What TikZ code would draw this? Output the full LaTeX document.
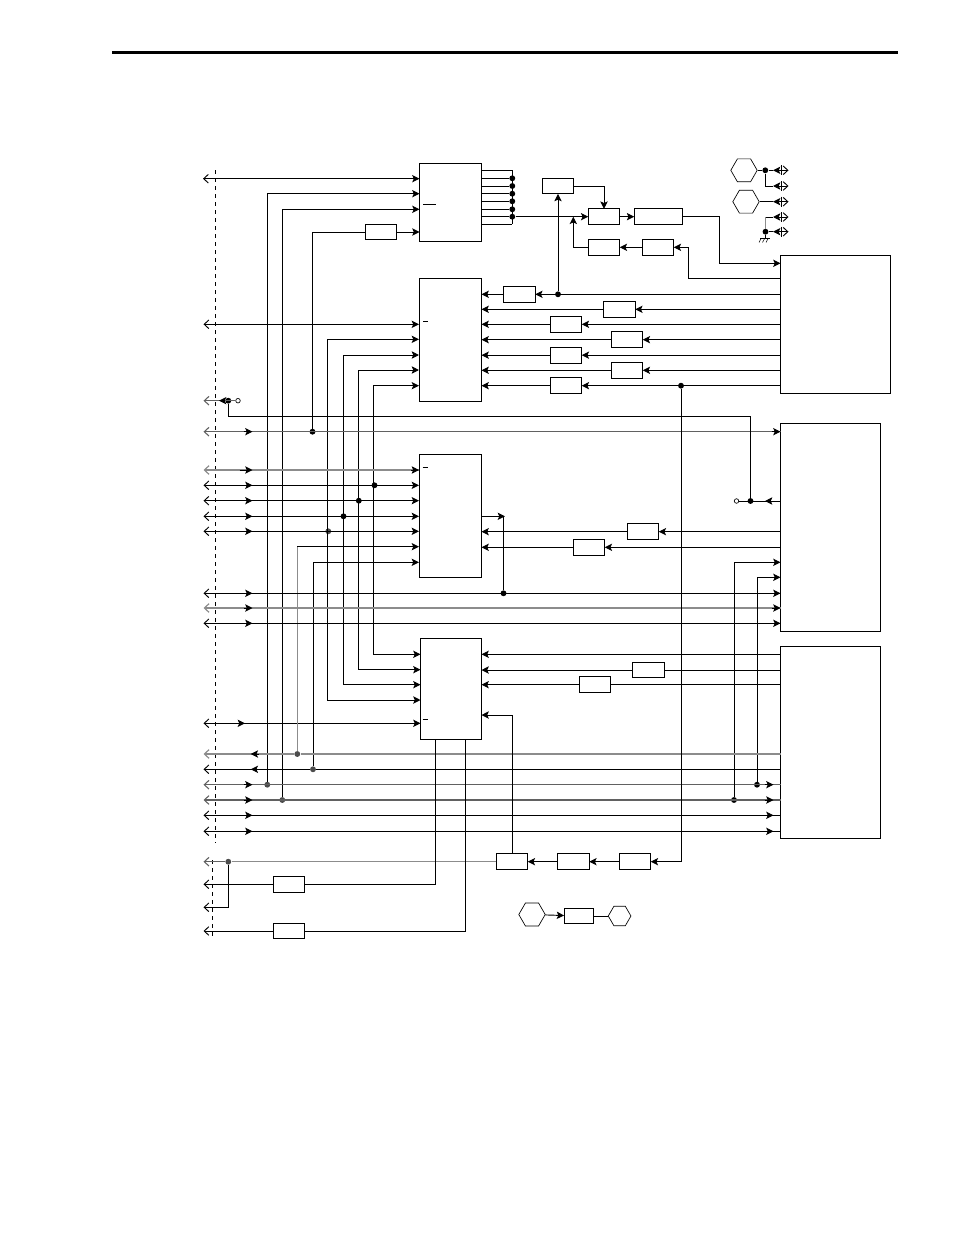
\documentclass[tikz,border=0pt]{standalone}
\usepackage{tikz}
\usetikzlibrary{arrows.meta}
\usetikzlibrary{shapes.geometric}
\tikzset{
	tipin/.tip={Stealth[length=5.5pt,width=5.5pt,inset=1.2pt]},
	chev/.tip={Straight Barb[length=3.5pt,width=6.5pt]},
	wire/.style={black,line width=0.7pt},
	midwire/.style={black!62,line width=0.8pt},
	palewire/.style={black!45,line width=0.9pt},
	blk/.style={draw,line width=0.7pt,inner sep=0pt,outer sep=0pt},
	box/.style={blk,minimum width=23.6pt,minimum height=11.9pt},
	dot/.style={circle,fill=black,inner sep=0pt,minimum size=4.4pt},
	graydot/.style={dot,fill=black!70},
	hole/.style={circle,draw,fill=white,line width=0.5pt,inner sep=0pt,minimum size=3.4pt},
	hexa/.style={regular polygon,regular polygon sides=6,draw,line width=0.5pt,inner sep=0pt,minimum size=19.8pt},
}
\begin{document}
\begin{tikzpicture}[x=0.75pt,y=-0.75pt]
		\useasboundingbox (0,0) rectangle (954,1235);
		\draw[line width=2.4pt] (112,52.5) -- (898,52.5);
		\draw[line width=0.7pt,dash pattern=on 3pt off 3pt] (215,170) -- (215,843);
		\draw[line width=0.7pt,dash pattern=on 3pt off 3pt] (212.7,860) -- (212.7,936);

		\node[blk,minimum width=46.5pt,minimum height=58.5pt] (U1) at (450.5,202) {};
		\node[blk,minimum width=46.9pt,minimum height=92.6pt] (U2) at (450.25,339.75) {};
		\node[blk,minimum width=46.9pt,minimum height=92.25pt] (U3) at (450.25,515.5) {};
		\node[blk,minimum width=45.75pt,minimum height=76.1pt] (U4) at (451,688.75) {};
		\node[blk,minimum width=82.5pt,minimum height=103.5pt] (R1) at (835.5,324.5) {};
		\node[blk,minimum width=75pt,minimum height=155.6pt] (R2) at (830.5,527.25) {};
		\node[blk,minimum width=75pt,minimum height=144pt] (R3) at (830.5,742) {};

		\node[box] (b1) at (381,232) {};
		\node[box] (b2) at (519.5,294.3) {};
		\node[box] (b3) at (619.5,309.3) {};
		\node[box] (b4) at (566,324.3) {};
		\node[box] (b5) at (627,339.7) {};
		\node[box] (b6) at (566,355.2) {};
		\node[box] (b7) at (627,370.3) {};
		\node[box] (b8) at (566,385.7) {};
		\node[box] (t1) at (558,186) {};
		\node[box] (t2) at (604,216.7) {};
		\node[box,minimum width=36.5pt] (t3) at (658.5,216.7) {};
		\node[box] (t4) at (604,247.3) {};
		\node[box] (t5) at (658,247.3) {};
		\node[box] (c1) at (643,531.7) {};
		\node[box] (c2) at (589,547.3) {};
		\node[box] (d1) at (648.5,670) {};
		\node[box] (d2) at (595,684.7) {};
		\node[box] (e1) at (512,861.7) {};
		\node[box] (e2) at (573.5,861.7) {};
		\node[box] (e3) at (635,861.7) {};
		\node[box] (f1) at (289,884.3) {};
		\node[box] (f2) at (289,931) {};
		\node[box,minimum width=22.4pt] (g1) at (579,916) {};

		\node[hexa] (h1) at (744,170.3) {};
		\node[hexa] (h2) at (746,201.7) {};
		\node[hexa] (h3) at (532,914.5) {};
		\node[hexa,minimum size=17pt] (h4) at (619.6,916) {};

		\node[graydot] (dA) at (267.3,784.7) {};
		\node[graydot] (dB) at (282.3,800) {};
		\node[dot] (dC) at (312.5,431.7) {};
		\node[graydot] (dD) at (328.3,531.3) {};
		\node[dot] (dE) at (343.5,516.3) {};
		\node[dot] (dF) at (358.8,500.7) {};
		\node[dot] (dG) at (374.5,485.3) {};
		\node[graydot] (dH) at (297.3,754) {};
		\node[graydot] (dI) at (313,769.3) {};
		\node[dot] (dJ) at (503.5,593.3) {};
		\node[dot] (dK) at (558,294.3) {};
		\node[dot] (dL) at (681,385.7) {};
		\node[dot] (dM) at (228.3,400.7) {};
		\node[dot] (dN) at (750.5,501) {};
		\node[dot] (dO) at (734,800) {};
		\node[dot] (dP) at (757,784.7) {};
		\node[graydot] (dQ) at (228.3,861.7) {};
		\node[dot] (dV) at (765.3,170.3) {};
		\node[dot] (dW) at (765.5,231.7) {};
		\node[hole] (o1) at (238,400.7) {};
		\node[hole] (o2) at (736.5,501) {};

		\coordinate (bustop) at (512.3,170.3);
		\coordinate (busbot) at (512.3,224.3);
		\draw[wire] (bustop) -- (busbot);
		\draw[wire] (U1.east |- bustop) -- (bustop);
		\draw[wire] (U1.east |- busbot) -- (busbot);
		\foreach \y [count=\i] in {178.3,186,193.7,201.3,209.3,216.7} {
			\node[dot] (q\i) at (512.3,\y) {};
			\draw[wire] (U1.east |- q\i) -- (q\i);
		}
		\draw[wire,-tipin] (q6) -- (t2);
		\draw[wire,-tipin] (t2) -- (t3);
		\draw[wire,-tipin] (t1) -| (t2);
		\draw[wire,-tipin] (dK) -- (t1);
		\draw[wire,-tipin] (t5) -- (t4);
		\coordinate (j1) at (573.3,216.7);
		\draw[wire,-tipin] (t4) -| (j1);
		\draw[wire,-tipin] (t3) -| (719.3,263.3) -- (R1.west |- 0,263.3);
		\draw[wire,-tipin] (R1.west |- 0,278.3) -| (688.3,247.3) -- (t5);

		\foreach \n in {b2,b3,b4,b5,b6,b7,b8} {
			\draw[wire,-tipin] (R1.west |- \n) -- (\n);
			\draw[wire,-tipin] (\n) -- (U2.east |- \n);
		}
		\foreach \n in {c1,c2} {
			\draw[wire,-tipin] (R2.west |- \n) -- (\n);
			\draw[wire,-tipin] (\n) -- (U3.east |- \n);
		}
		\foreach \n in {d1,d2} {
			\draw[wire] (R3.west |- \n) -- (\n);
			\draw[wire,-tipin] (\n) -- (U4.east |- \n);
		}
		\draw[wire,-tipin] (R3.west |- 0,654.3) -- (U4.east |- 0,654.3);

		\coordinate (l1) at (203,178.7);
		\coordinate (l2) at (203.5,324.3);
		\coordinate (l3) at (203.5,723.3);
		\draw[chev-tipin,wire] (l1) -- (U1.west |- l1);
		\draw[chev-tipin,wire] (l2) -- (U2.west |- l2);
		\draw[chev-tipin,wire] (l3) -- (U4.west |- l3);
		\draw[wire,-tipin] (l3) ++(30,0) -- (245,723.3);

		\draw[wire,-tipin] (dA) |- (U1.west |- 0,193.7);
		\draw[wire,-tipin] (dB) |- (U1.west |- 0,209.3);
		\draw[wire,-tipin] (b1) -- (U1.west |- b1);
		\draw[wire] (dC) |- (b1);
		\draw[wire,-tipin] (327.3,700) |- (U2.west |- 0,339.3);
		\draw[wire,-tipin] (343.3,684.7) |- (U2.west |- 0,355);
		\draw[wire,-tipin] (358.3,669.7) |- (U2.west |- 0,370);
		\draw[wire,-tipin] (373.3,654.3) |- (U2.west |- 0,385.7);
		\draw[wire,-tipin] (327.3,700) -- (U4.west |- 0,700);
		\draw[wire,-tipin] (343.3,684.7) -- (U4.west |- 0,684.7);
		\draw[wire,-tipin] (358.3,669.7) -- (U4.west |- 0,669.7);
		\draw[wire,-tipin] (373.3,654.3) -- (U4.west |- 0,654.3);
		\draw[palewire] (dH) -- (dH |- 0,546.7);
		\draw[wire,-tipin] (dH |- 0,546.7) -- (U3.west |- 0,546.7);
		\draw[wire,-tipin] (dI) |- (U3.west |- 0,562.3);

		\foreach \y [count=\i] in {485.3,500.7,516.3,531.3} {
			\coordinate (m\i) at (203.5,\y);
			\draw[chev-tipin,wire] (m\i) -- (U3.west |- m\i);
			\draw[wire,-tipin] (m\i) ++(40,0) -- (252.5,\y);
		}
		\coordinate (m5) at (203.5,470);
		\draw[-chev,palewire] (U3.west |- m5) -- (m5);
		\draw[wire,-tipin] (411,470) -- (U3.west |- m5);
		\draw[wire,-tipin] (m5) ++(36,0) -- (252.5,470);

		\foreach \y/\s [count=\i] in {431.7/midwire,593.3/wire,608/palewire,623.3/wire} {
			\coordinate (n\i) at (203.5,\y);
			\draw[chev-,\s] (n\i) -- (R2.west |- n\i);
			\draw[wire,-tipin] (R2.west |- n\i) ++(-9,0) -- (R2.west |- n\i);
			\draw[wire,-tipin] (n\i) ++(40,0) -- (252.5,\y);
		}
		\draw[wire] (U3.east |- 0,516.3) -| (dJ);
		\draw[wire,-tipin] (U3.east |- 0,516.3) -- (505,516.3);
		\foreach \y/\s [count=\i] in {784.7/midwire,800/midwire,815.3/wire,831.3/wire} {
			\coordinate (k\i) at (203.5,\y);
			\draw[chev-,\s] (k\i) -- (R3.west |- k\i);
			\draw[wire,-tipin] (k\i) ++(40,0) -- (252.5,\y);
			\draw[wire,-tipin] (R3.west |- k\i) ++(-16,0) -- ++(9,0);
		}
		\draw[wire,-tipin] (dO) |- (R2.west |- 0,562.3);
		\draw[wire,-tipin] (dP) |- (R2.west |- 0,577.3);
		\coordinate (p1) at (203.5,754);
		\coordinate (p2) at (203.5,769.3);
		\draw[palewire] (R3.west |- p1) -- (dH);
		\draw[-chev,palewire] (dH) -- (p1);
		\draw[wire] (R3.west |- p2) -- (dI);
		\draw[-chev,wire] (dI) -- (p2);
		\draw[wire,-tipin] (259,754) -- (250.7,754);
		\draw[wire,-tipin] (259,769.3) -- (250.7,769.3);

		\coordinate (s1) at (203.5,400.7);
		\draw[midwire,-chev] (o1) -- (s1);
		\draw[wire,-tipin] (dM) -- (219,400.7);
		\draw[wire] (dM) |- (dN |- 0,416.3) -- (dN);
		\draw[wire] (R2.west |- dN) -- (o2);
		\draw[wire,-tipin] (R2.west |- dN) -- (765,501);

		\draw[wire,-tipin] (dL) |- (e3);
		\draw[wire,-tipin] (e3) -- (e2);
		\draw[wire,-tipin] (e2) -- (e1);
		\draw[wire,-tipin] (e1) |- (U4.east |- 0,715);
		\draw[palewire] (e1) -- (dQ);
		\coordinate (s2) at (203.5,861.7);
		\coordinate (s3) at (203.5,907.3);
		\coordinate (s4) at (203.5,884.3);
		\coordinate (s5) at (203.5,931);
		\draw[midwire,-chev] (dQ) -- (s2);
		\draw[wire,-chev] (dQ) |- (s3);
		\draw[wire] (435.3,0 |- U4.south) |- (f1);
		\draw[wire] (465.7,0 |- U4.south) |- (f2);
		\draw[wire,-chev] (f1) -- (s4);
		\draw[wire,-chev] (f2) -- (s5);

		\draw[wire,-tipin] (h3) -- (g1);
		\draw[wire] (g1) -- (h4);

		\foreach \y [count=\i] in {170.3,186,201.7,217,231.7} {
			\coordinate (r\i) at (788.5,\y);
			\draw[wire,-tipin] (781,\y) -- (773,\y);
			\draw[wire,-chev] (781,\y) -- (r\i);
			\draw[wire] (781,\y-5) -- (781,\y+5);
		}
		\draw[wire] (h1) -- (dV);
		\draw[wire] (dV) -- (773,170.3);
		\draw[wire] (dV) |- (773,186);
		\draw[wire] (h2) -- (773,201.7);
		\draw[wire] (dW) -- (773,231.7);
		\draw[palewire] (dW) -- (dW |- 0,217);
		\draw[wire] (dW |- 0,217) -- (773,217);
		\draw[wire] (dW) -- (765.5,238.7);
		\draw[wire] (760,238.7) -- (769.5,238.7);
		\foreach \x in {761,764.5,768} {
			\draw[line width=0.4pt] (\x,238.7) -- (\x-2,242.5);
		}

		\draw[wire] (423,204) -- (436,204);
		\draw[wire] (423,321) -- (428,321);
		\draw[wire] (422.5,467.3) -- (428,467.3);
		\draw[wire] (422.5,719) -- (428,719);
	\end{tikzpicture}
\end{document}
